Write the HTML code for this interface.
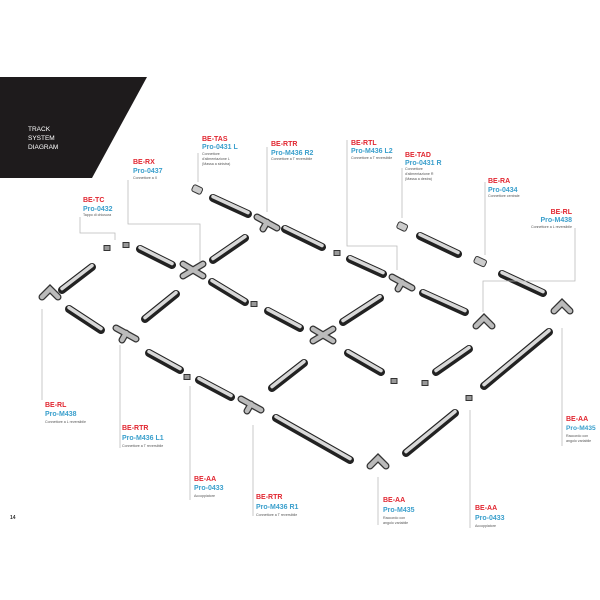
<!DOCTYPE html>
<html><head><meta charset="utf-8"><style>
html,body{margin:0;padding:0;background:#fff;width:600px;height:600px;overflow:hidden}
svg{display:block}
.r{fill:#e1252f;font:bold 7px "Liberation Sans",sans-serif}
.b{fill:#3a9fcc;font:bold 7px "Liberation Sans",sans-serif}
.d{fill:#555;font:3.6px "Liberation Sans",sans-serif}
.ln{stroke:#bbb;stroke-width:0.8;fill:none}
</style></head><body>
<svg width="600" height="600" viewBox="0 0 600 600" xmlns="http://www.w3.org/2000/svg">
<defs>
<g id="x"><path d="M-10,-6 L10,6 M-10,6 L10,-6" stroke="#333" stroke-width="7" stroke-linecap="round"/><path d="M-10,-6 L10,6 M-10,6 L10,-6" stroke="#bbb" stroke-width="4.5" stroke-linecap="round"/></g>
<g id="t"><path d="M-10,-5 L10,6 M0,0 L-4,7" stroke="#333" stroke-width="7" stroke-linecap="round"/><path d="M-10,-5 L10,6 M0,0 L-4,7" stroke="#bbb" stroke-width="4.5" stroke-linecap="round"/></g>
<g id="l"><path d="M-8,4 L0,-4 L8,4" stroke="#333" stroke-width="7" stroke-linecap="round" fill="none"/><path d="M-8,4 L0,-4 L8,4" stroke="#bbb" stroke-width="4.5" stroke-linecap="round" fill="none"/></g>
<g id="s"><rect x="-3" y="-2.5" width="6" height="5" fill="#999" stroke="#333" stroke-width="1"/></g>
</defs>
<polygon points="0,77 147,77 92,178 0,178" fill="#1e1b1c"/>
<text x="28" y="131" fill="#fff" font-family="Liberation Sans,sans-serif" font-size="6.5">TRACK</text>
<text x="28" y="140" fill="#fff" font-family="Liberation Sans,sans-serif" font-size="6.5">SYSTEM</text>
<text x="28" y="149" fill="#fff" font-family="Liberation Sans,sans-serif" font-size="6.5">DIAGRAM</text>

<g stroke-linecap="round">
<g stroke="#222" stroke-width="8">
<line x1="213" y1="198" x2="248" y2="214"/><line x1="140" y1="249" x2="172" y2="265"/>
<line x1="285" y1="229" x2="322" y2="247"/><line x1="350" y1="259" x2="383" y2="274"/>
<line x1="420" y1="236" x2="458" y2="254"/><line x1="502" y1="274" x2="543" y2="293"/>
<line x1="423" y1="293" x2="465" y2="312"/><line x1="212" y1="282" x2="245" y2="302"/>
<line x1="268" y1="311" x2="300" y2="328"/><line x1="69" y1="309" x2="101" y2="330"/>
<line x1="149" y1="353" x2="180" y2="370"/><line x1="199" y1="380" x2="231" y2="397"/>
<line x1="276" y1="418" x2="350" y2="460"/><line x1="348" y1="353" x2="381" y2="372"/>
<line x1="213" y1="260" x2="245" y2="238"/><line x1="62" y1="290" x2="92" y2="267"/>
<line x1="145" y1="319" x2="176" y2="294"/><line x1="272" y1="388" x2="304" y2="363"/>
<line x1="343" y1="322" x2="380" y2="298"/><line x1="436" y1="372" x2="469" y2="349"/>
<line x1="406" y1="453" x2="455" y2="413"/><line x1="484" y1="386" x2="549" y2="332"/>
</g>
<g stroke="#d8d8d8" stroke-width="3.5" transform="translate(0,-1.4)">
<line x1="213" y1="198" x2="248" y2="214"/><line x1="140" y1="249" x2="172" y2="265"/>
<line x1="285" y1="229" x2="322" y2="247"/><line x1="350" y1="259" x2="383" y2="274"/>
<line x1="420" y1="236" x2="458" y2="254"/><line x1="502" y1="274" x2="543" y2="293"/>
<line x1="423" y1="293" x2="465" y2="312"/><line x1="212" y1="282" x2="245" y2="302"/>
<line x1="268" y1="311" x2="300" y2="328"/><line x1="69" y1="309" x2="101" y2="330"/>
<line x1="149" y1="353" x2="180" y2="370"/><line x1="199" y1="380" x2="231" y2="397"/>
<line x1="276" y1="418" x2="350" y2="460"/><line x1="348" y1="353" x2="381" y2="372"/>
<line x1="213" y1="260" x2="245" y2="238"/><line x1="62" y1="290" x2="92" y2="267"/>
<line x1="145" y1="319" x2="176" y2="294"/><line x1="272" y1="388" x2="304" y2="363"/>
<line x1="343" y1="322" x2="380" y2="298"/><line x1="436" y1="372" x2="469" y2="349"/>
<line x1="406" y1="453" x2="455" y2="413"/><line x1="484" y1="386" x2="549" y2="332"/>
</g>
</g>

<use href="#x" x="193" y="270"/><use href="#x" x="323" y="335"/>
<use href="#t" x="267" y="222"/><use href="#t" x="402" y="282"/><use href="#t" x="126" y="333"/><use href="#t" x="251" y="404"/>
<use href="#l" x="50" y="293"/><use href="#l" x="562" y="307"/><use href="#l" x="484" y="322"/><use href="#l" x="378" y="462"/>
<use href="#s" x="337" y="253"/><use href="#s" x="254" y="304"/><use href="#s" x="187" y="377"/><use href="#s" x="394" y="381"/><use href="#s" x="425" y="383"/><use href="#s" x="469" y="398"/>
<use href="#s" x="107" y="248"/><use href="#s" x="126" y="245"/>
<g stroke="#333" stroke-width="1" fill="#ccc">
<rect x="192" y="186" width="10" height="7" rx="2" transform="rotate(25 197 190)"/>
<rect x="397" y="223" width="10" height="7" rx="2" transform="rotate(25 402 227)"/>
<rect x="474" y="258" width="12" height="7" rx="2" transform="rotate(25 480 262)"/>
</g>

<path class="ln" d="M80,217 V233 H115 V240"/>
<path class="ln" d="M128,180 V224 H200 V262"/>
<path class="ln" d="M198,153 V182"/>
<path class="ln" d="M267,147 V212"/>
<path class="ln" d="M347,140 V246 H397 V270"/>
<path class="ln" d="M402,168 V218"/>
<path class="ln" d="M485,182 V255"/>
<path class="ln" d="M575,228 V281 H483 V312"/>
<path class="ln" d="M42,309 V400"/>
<path class="ln" d="M120,345 V448"/>
<path class="ln" d="M190,386 V500"/>
<path class="ln" d="M253,425 V516"/>
<path class="ln" d="M378,477 V525"/>
<path class="ln" d="M470,410 V528"/>
<path class="ln" d="M562,328 V446"/>

<text class="r" x="83" y="202">BE-TC</text><text class="b" x="83" y="211">Pro-0432</text><text class="d" x="83" y="216">Tappo di chiusura</text>
<text class="r" x="133" y="164">BE-RX</text><text class="b" x="133" y="173">Pro-0437</text><text class="d" x="133" y="179">Connettore a X</text>
<text class="r" x="202" y="141">BE-TAS</text><text class="b" x="202" y="149">Pro-0431 L</text><text class="d" x="202" y="155">Connettore</text><text class="d" x="202" y="160">d'alimentazione L</text><text class="d" x="202" y="165">(Massa a sinistra)</text>
<text class="r" x="271" y="146">BE-RTR</text><text class="b" x="271" y="155">Pro-M436 R2</text><text class="d" x="271" y="160">Connettore a T reversibile</text>
<text class="r" x="351" y="145">BE-RTL</text><text class="b" x="351" y="153">Pro-M436 L2</text><text class="d" x="351" y="159">Connettore a T reversibile</text>
<text class="r" x="405" y="157">BE-TAD</text><text class="b" x="405" y="165">Pro-0431 R</text><text class="d" x="405" y="170">Connettore</text><text class="d" x="405" y="175">d'alimentazione R</text><text class="d" x="405" y="180">(Massa a destra)</text>
<text class="r" x="488" y="183">BE-RA</text><text class="b" x="488" y="192">Pro-0434</text><text class="d" x="488" y="197">Connettore centrale</text>
<g text-anchor="end"><text class="r" x="572" y="214">BE-RL</text><text class="b" x="572" y="222">Pro-M438</text><text class="d" x="572" y="228">Connettore a L reversibile</text></g>
<text class="r" x="45" y="407">BE-RL</text><text class="b" x="45" y="416">Pro-M438</text><text class="d" x="45" y="423">Connettore a L reversibile</text>
<text class="r" x="122" y="430">BE-RTR</text><text class="b" x="122" y="440">Pro-M436 L1</text><text class="d" x="122" y="447">Connettore a T reversibile</text>
<text class="r" x="194" y="481">BE-AA</text><text class="b" x="194" y="490">Pro-0433</text><text class="d" x="194" y="497">Accoppiatore</text>
<text class="r" x="256" y="499">BE-RTR</text><text class="b" x="256" y="509">Pro-M436 R1</text><text class="d" x="256" y="516">Connettore a T reversibile</text>
<text class="r" x="383" y="502">BE-AA</text><text class="b" x="383" y="512">Pro-M435</text><text class="d" x="383" y="519">Raccordo con</text><text class="d" x="383" y="524">angolo variabile</text>
<text class="r" x="475" y="510">BE-AA</text><text class="b" x="475" y="520">Pro-0433</text><text class="d" x="475" y="527">Accoppiatore</text>
<text class="r" x="566" y="421">BE-AA</text><text class="b" x="566" y="430" style="font-size:6.6px">Pro-M435</text><text class="d" x="566" y="437">Raccordo con</text><text class="d" x="566" y="442">angolo variabile</text>
<text x="10" y="519" font-family="Liberation Sans,sans-serif" font-size="5" font-weight="bold" fill="#333">14</text>
</svg>
</body></html>
